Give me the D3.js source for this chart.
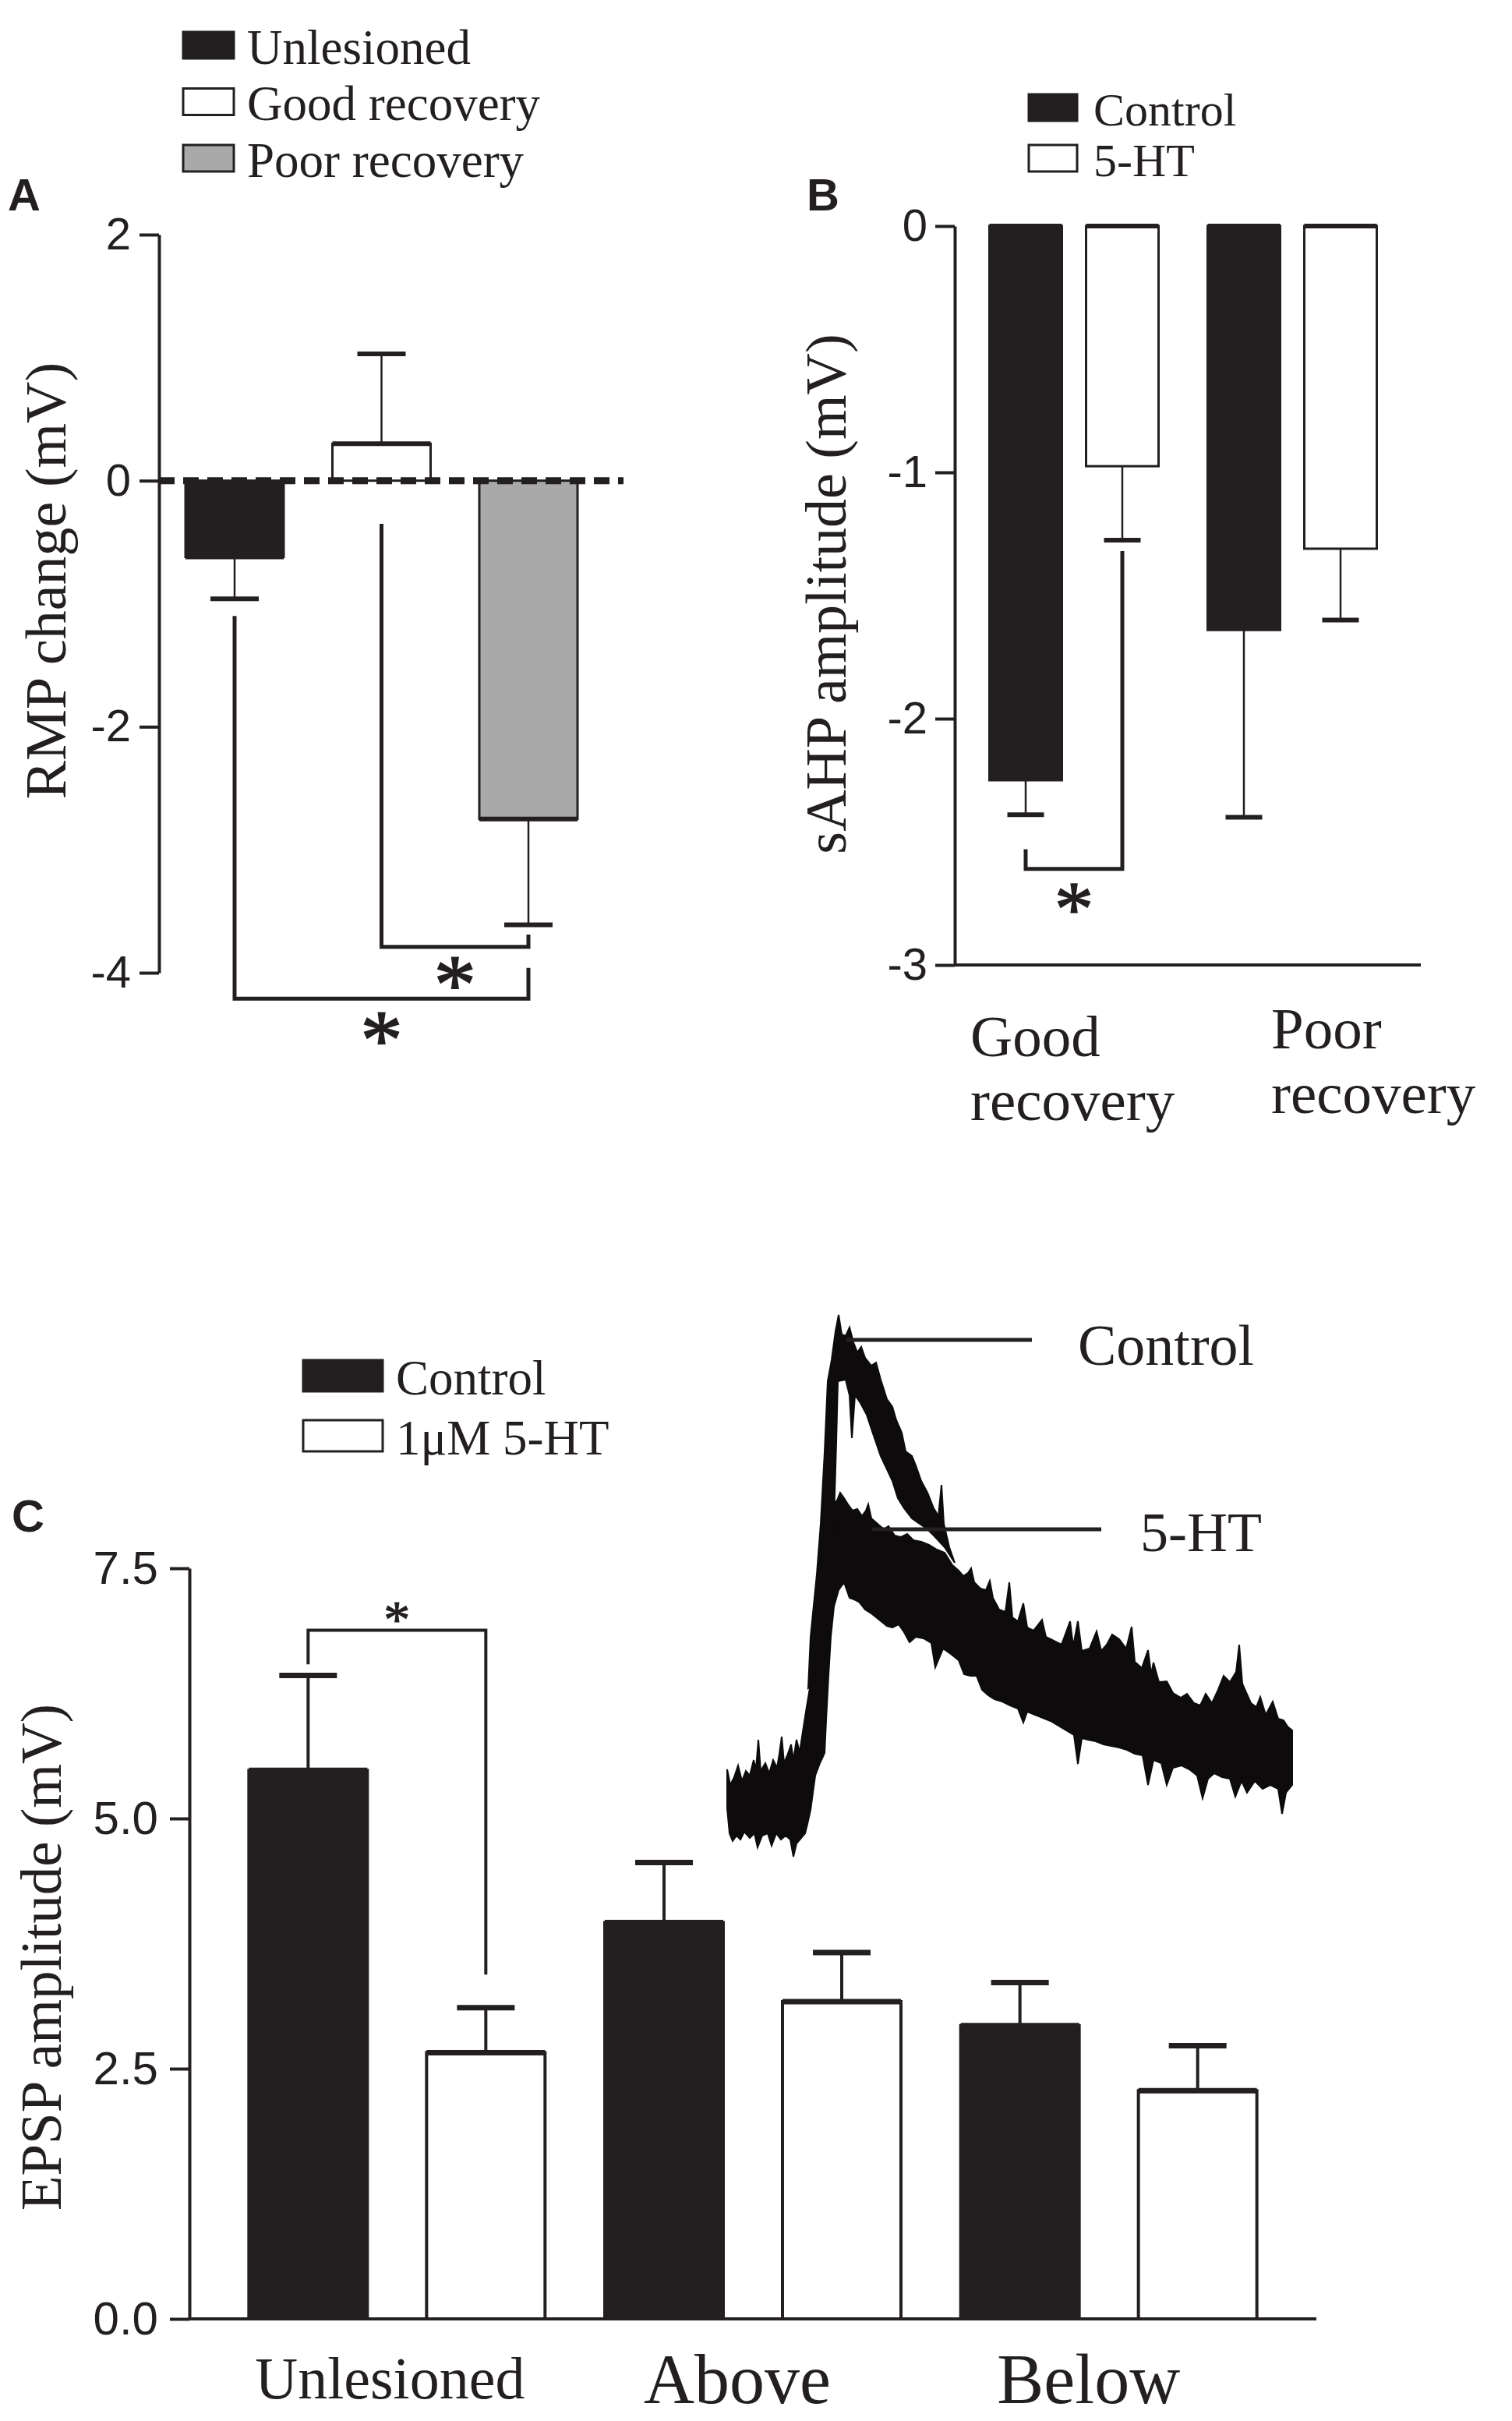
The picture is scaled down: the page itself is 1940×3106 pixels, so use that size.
<!DOCTYPE html>
<html>
<head>
<meta charset="utf-8">
<script src="https://cdn.jsdelivr.net/npm/d3@7/dist/d3.min.js"></script>
<style>
body { margin: 0; background: #fff; }
svg { display: block; background: #fff; }
</style>
</head>
<body>
<svg id="figure"></svg>
<script>
// ---- data ----
var rmpGroups = ["Unlesioned", "Good recovery", "Poor recovery"];
var rmpMean = [-0.62, 0.30, -2.75];
var rmpSem = [0.34, 0.73, 0.86];
var rmpTicks = [2, 0, -2, -4];
var rmpBrackets = [
    { from: "Good recovery", to: "Poor recovery", fromY: -0.35, baseY: -3.79, toY: -3.69, star: -4.01 },
    { from: "Unlesioned", to: "Poor recovery", fromY: -1.10, baseY: -4.21, toY: -3.96, star: -4.46 }
];

var sahpGroups = ["Good recovery", "Poor recovery"];
var sahpSeries = ["Control", "5-HT"];
var sahpControl = [-2.25, -1.64];
var sahpControlSem = [0.14, 0.76];
var sahpSerotonin = [-0.975, -1.31];
var sahpSerotoninSem = [0.30, 0.29];
var sahpTicks = [0, -1, -2, -3];
var sahpBracket = { group: "Good recovery", fromY: -2.53, baseY: -2.61, toY: -1.32, star: -2.73 };

var epspGroups = ["Unlesioned", "Above", "Below"];
var epspSeries = ["Control", "1\u03bcM 5-HT"];
var epspControl = [5.48, 3.96, 2.93];
var epspControlSem = [0.95, 0.60, 0.43];
var epspSerotonin = [2.66, 3.17, 2.28];
var epspSerotoninSem = [0.45, 0.49, 0.45];
var epspTicks = [0, 2.5, 5, 7.5];
var epspBracket = { group: "Unlesioned", fromY: 6.54, baseY: 6.88, toY: 3.44, star: 7.06 };

// inset EPSP recordings: outline of overlaid sweeps, [time ms, mV]
var traceControlOutline = [
    [22.4,1.53],[20.8,1.47],[21.4,2.13],[23.0,2.93],[24.0,3.58],[25.0,4.50],[25.8,5.41],[26.8,5.68],
    [27.8,6.05],[28.6,6.26],[29.4,6.01],[30.4,5.99],[31.4,6.10],[32.4,5.91],[33.4,5.78],[34.4,5.85],
    [35.4,5.71],[37.0,5.61],[38.2,5.65],[39.4,5.43],[41.0,5.18],[42.4,5.08],[43.4,4.91],[44.8,4.75],
    [45.8,4.51],[47.4,4.45],[48.4,4.33],[49.8,4.13],[51.4,3.98],[53.0,3.78],[54.2,3.68],[55.0,4.08],
    [55.6,3.58],[57.0,3.28],[58.4,3.08],
    [55.8,3.28],[53.4,3.41],[51.4,3.51],[49.4,3.58],[47.4,3.65],[45.4,3.78],[43.8,3.91],[42.4,4.13],
    [41.0,4.28],[39.4,4.45],[37.8,4.68],[35.8,4.98],[34.2,5.13],[32.8,5.23],[32.0,4.68],[31.4,5.23],
    [30.4,5.43],[28.4,5.41],[28.0,4.63],[27.4,3.63],[26.6,2.63]
];
var traceSerotoninOutline = [
    [0,0.43],[0.8,0.23],[1.8,0.33],[2.8,0.48],[3.8,0.28],[4.8,0.41],[5.8,0.35],[6.8,0.55],[7.4,0.43],
    [8.0,0.81],[8.6,0.41],[9.8,0.51],[10.8,0.38],[11.8,0.55],[12.8,0.45],[13.4,0.63],[14.0,0.85],
    [14.6,0.51],[15.6,0.63],[16.4,0.75],[17.0,0.55],[17.8,0.81],[18.6,0.65],[19.4,0.91],[20.4,1.23],
    [21.4,1.53],[23.0,1.93],[24.4,3.03],[25.8,3.53],[27.0,3.83],[28.2,3.88],[29.0,3.98],[30.0,3.91],
    [31.0,3.83],[32.2,3.75],[33.4,3.77],[34.6,3.68],[35.6,3.75],[36.2,3.83],[37.0,3.65],[38.6,3.58],
    [40.2,3.51],[41.4,3.55],[43.0,3.43],[44.6,3.41],[46.2,3.45],[47.8,3.37],[49.8,3.35],[51.8,3.31],
    [53.8,3.25],[55.8,3.21],[57.8,3.05],[59.4,2.98],[60.6,2.91],[61.8,2.95],[62.6,3.01],[63.4,2.83],
    [65.0,2.75],[66.4,2.73],[67.4,2.85],[68.2,2.63],[69.8,2.48],[71.4,2.45],[72.4,2.83],[73.2,2.38],
    [74.6,2.33],[76.0,2.56],[77.0,2.25],[78.6,2.21],[80.8,2.35],[81.8,2.13],[83.8,2.08],[85.8,2.03],
    [88.0,2.33],[88.8,2.01],[90.0,2.33],[91.0,1.95],[93.0,1.98],[94.8,2.20],[96.0,1.95],[97.4,2.03],
    [98.8,2.16],[100.6,2.10],[102.4,1.98],[103.8,2.26],[104.6,1.81],[106.4,1.73],[108.0,1.96],
    [108.8,1.65],[109.4,1.80],[110.8,1.55],[112.8,1.56],[114.4,1.41],[116.4,1.35],[118.0,1.40],
    [119.8,1.28],[121.4,1.25],[122.8,1.40],[124.4,1.28],[125.8,1.43],[127.4,1.63],[129.0,1.55],
    [130.6,1.68],[131.4,2.03],[132.2,1.53],[132.8,1.46],[134.4,1.28],[135.8,1.23],[136.8,1.36],
    [138.2,1.13],[140.0,1.30],[141.4,1.08],[142.8,1.06],[143.8,0.98],[145.0,0.93],
    [145.0,0.23],[143.4,0.13],[142.4,-0.14],[141.4,0.18],[139.4,0.23],[137.4,0.18],[135.4,0.28],
    [133.4,0.13],[132.0,0.28],[130.4,0.08],[129.0,0.31],[127.0,0.33],[125.0,0.38],[123.4,0.31],
    [122.0,0.06],[120.6,0.35],[118.6,0.43],[116.6,0.48],[114.4,0.45],[112.8,0.23],[111.4,0.51],
    [109.4,0.55],[108.0,0.23],[106.6,0.61],[104.6,0.63],[102.6,0.68],[100.6,0.71],[98.6,0.73],
    [96.6,0.75],[94.6,0.79],[92.6,0.81],[91.0,0.83],[90.0,0.50],[89.0,0.87],[87.0,0.93],[85.0,0.99],
    [83.0,1.05],[81.0,1.09],[79.0,1.13],[77.0,1.17],[76.0,1.03],[74.6,1.21],[72.6,1.25],[70.6,1.30],
    [68.6,1.33],[67.0,1.38],[65.4,1.45],[64.0,1.63],[62.4,1.63],[60.8,1.65],[59.4,1.83],[57.4,1.91],
    [55.4,1.98],[53.4,1.74],[52.4,2.05],[50.4,2.11],[48.4,2.13],[46.8,2.06],[45.4,2.19],[44.0,2.29],
    [42.4,2.25],[41.0,2.27],[39.0,2.35],[37.0,2.43],[35.4,2.48],[33.8,2.58],[32.6,2.61],[31.4,2.63],
    [30.0,2.83],[28.6,2.73],[27.4,2.52],[26.6,2.13],[26.0,1.63],[25.4,1.06],[25.0,0.64],[23.8,0.51],
    [22.6,0.35],[21.4,-0.09],[20.6,-0.27],[20.0,-0.39],[19.0,-0.45],[17.8,-0.52],[17.0,-0.69],
    [16.2,-0.47],[15.0,-0.42],[13.8,-0.47],[12.6,-0.39],[11.4,-0.55],[10.4,-0.39],[9.0,-0.42],
    [7.8,-0.57],[7.0,-0.39],[5.8,-0.45],[4.4,-0.37],[3.4,-0.47],[2.4,-0.42],[1.4,-0.49],[0.6,-0.39],
    [0,-0.07]
];
var traceLabels = [
    { text: "Control", t0: 30.6, t1: 78.2, v: 5.94, tText: 90, vText: 5.62, size: 74 },
    { text: "5-HT", t0: 37.2, t1: 96.0, v: 3.51, tText: 106, vText: 3.23, size: 72 }
];

// ---- drawing ----
var ink = "#231f20";
var grey = "#a9a9a9";
var serif = "'Liberation Serif', 'Times New Roman', serif";
var sans = "'Liberation Sans', Arial, sans-serif";

var svg = d3.select("#figure").attr("width", 1940).attr("height", 3106);

function yAxis(scale, ticks, fmt, x, pad, size) {
    var axis = d3.axisLeft(scale)
        .tickValues(ticks)
        .tickFormat(fmt)
        .tickSize(25)
        .tickSizeOuter(0)
        .tickPadding(pad);
    var g = svg.append("g")
        .attr("transform", "translate(" + x + ",0)")
        .call(axis);
    g.select(".domain").attr("stroke", ink).attr("stroke-width", 4);
    g.selectAll(".tick line").attr("stroke", ink).attr("stroke-width", 4);
    g.selectAll(".tick text")
        .attr("fill", ink)
        .attr("font-family", sans)
        .attr("font-size", size);
}

function text(str, x, y, size, opts) {
    opts = opts || {};
    return svg.append("text")
        .attr("x", x)
        .attr("y", y)
        .attr("font-family", opts.family || serif)
        .attr("font-size", size)
        .attr("font-weight", opts.weight || "normal")
        .attr("text-anchor", opts.anchor || "start")
        .attr("fill", ink)
        .text(str);
}

function yLabel(str, x, y, size) {
    svg.append("text")
        .attr("transform", "translate(" + x + "," + y + ") rotate(-90)")
        .attr("text-anchor", "middle")
        .attr("font-family", serif)
        .attr("font-size", size)
        .attr("fill", ink)
        .text(str);
}

function legend(items, x, y0, step, w, h, textX, size) {
    items.forEach(function(d, i) {
        var cy = y0 + i * step;
        svg.append("rect")
            .attr("x", x).attr("y", cy - h / 2)
            .attr("width", w).attr("height", h)
            .attr("fill", d.fill)
            .attr("stroke", ink).attr("stroke-width", 3);
        text(d.label, textX, cy + 0.38 * size, size);
    });
}

// one bar with its edge line and its error bar
function bar(cx, width, y, v, sem, fill, style) {
    var y0 = y(0), y1 = y(v);
    svg.append("rect")
        .attr("x", cx - width / 2)
        .attr("y", Math.min(y0, y1))
        .attr("width", width)
        .attr("height", Math.abs(y1 - y0))
        .attr("fill", fill)
        .attr("stroke", ink)
        .attr("stroke-width", style.border);
    var edge = style.edgeAtZero ? y0 : y1;
    svg.append("line")
        .attr("x1", cx - width / 2).attr("x2", cx + width / 2)
        .attr("y1", edge).attr("y2", edge)
        .attr("stroke", ink).attr("stroke-width", style.edge);
    var tip = y(v < 0 ? v - sem : v + sem);
    svg.append("line")
        .attr("x1", cx).attr("x2", cx)
        .attr("y1", y1).attr("y2", tip)
        .attr("stroke", ink).attr("stroke-width", style.whisker);
    svg.append("line")
        .attr("x1", cx - style.cap / 2).attr("x2", cx + style.cap / 2)
        .attr("y1", tip).attr("y2", tip)
        .attr("stroke", ink).attr("stroke-width", style.capWidth);
}

function bracket(x1, x2, y, b, width) {
    svg.append("path")
        .attr("d", "M" + x1 + "," + y(b.fromY) + "V" + y(b.baseY) + "H" + x2 + "V" + y(b.toY))
        .attr("fill", "none")
        .attr("stroke", ink)
        .attr("stroke-width", width);
}

function star(cx, cy, size) {
    text("*", cx, cy + 0.46 * size, size, { anchor: "middle" })
        .attr("stroke", ink)
        .attr("stroke-width", size / 60);
}

// ---------- Panel A ----------
function drawPanelA() {
    var y = d3.scaleLinear().domain([2, -4]).range([301, 1248]);
    var x = d3.scalePoint().domain(rmpGroups).range([301, 678]);
    var fills = [ink, "#fff", grey];

    legend([
        { label: "Unlesioned", fill: ink },
        { label: "Good recovery", fill: "#fff" },
        { label: "Poor recovery", fill: grey }
    ], 235, 58, 72.5, 65, 34, 317, 63);
    text("A", 10, 270, 58, { family: sans, weight: "bold" });

    rmpGroups.forEach(function(g, i) {
        bar(x(g), 126, y, rmpMean[i], rmpSem[i], fills[i],
            { border: 3, edge: 6, edgeAtZero: false, whisker: 2.5, cap: 62, capWidth: 6 });
    });

    yAxis(y, rmpTicks, function(d) { return String(d); }, 204, 11, 58);

    svg.append("line")
        .attr("x1", 204).attr("x2", 800)
        .attr("y1", y(0)).attr("y2", y(0))
        .attr("stroke", ink).attr("stroke-width", 9)
        .attr("stroke-dasharray", "20,11");

    rmpBrackets.forEach(function(b) {
        bracket(x(b.from), x(b.to), y, b, 5);
        star((x(b.from) + x(b.to)) / 2, y(b.star), 108);
    });

    yLabel("RMP change (mV)", 84, 745, 74);
}

// ---------- Panel B ----------
function drawPanelB() {
    var y = d3.scaleLinear().domain([0, -3]).range([290, 1238]);
    var x = d3.scaleBand().domain(sahpGroups).range([1238, 1798]);
    var xs = d3.scalePoint().domain(sahpSeries).range([-62, 62]);
    var labelDx = [-133, -27];
    var labelBase = [[1355, 1437], [1345, 1428]];

    legend([
        { label: "Control", fill: ink },
        { label: "5-HT", fill: "#fff" }
    ], 1320, 138, 65, 62, 34, 1403, 60);
    text("B", 1035, 270, 58, { family: sans, weight: "bold" });

    var style = { border: 3, edge: 6, edgeAtZero: true, whisker: 2.5, cap: 47, capWidth: 6 };
    sahpGroups.forEach(function(g, i) {
        var c = x(g) + x.bandwidth() / 2;
        bar(c + xs("Control"), 93, y, sahpControl[i], sahpControlSem[i], ink, style);
        bar(c + xs("5-HT"), 93, y, sahpSerotonin[i], sahpSerotoninSem[i], "#fff", style);
        var words = g.split(" ");
        text(words[0], c + labelDx[i], labelBase[i][0], 75);
        text(words[1], c + labelDx[i], labelBase[i][1], 75);
    });

    yAxis(y, sahpTicks, function(d) { return String(d); }, 1225, 10, 58);
    svg.append("line")
        .attr("x1", 1225).attr("x2", 1823)
        .attr("y1", y(-3)).attr("y2", y(-3))
        .attr("stroke", ink).attr("stroke-width", 4);

    var c0 = x(sahpBracket.group) + x.bandwidth() / 2;
    var bx1 = c0 + xs("Control"), bx2 = c0 + xs("5-HT");
    bracket(bx1, bx2, y, sahpBracket, 5);
    star((bx1 + bx2) / 2, y(sahpBracket.star), 100);

    yLabel("sAHP amplitude (mV)", 1085, 762, 74);
}

// ---------- Panel C ----------
function drawPanelC() {
    var y = d3.scaleLinear().domain([0, 7.5]).range([2975, 2012]);
    var x = d3.scaleBand().domain(epspGroups).range([281, 1651]);
    var xs = d3.scalePoint().domain(epspSeries).range([-114, 114]);
    var labelDx = [-9, -20, -26];
    var labelSize = [76, 90, 90];
    var labelBase = [3077, 3083, 3083];

    legend([
        { label: epspSeries[0], fill: ink },
        { label: epspSeries[1], fill: "#fff" }
    ], 389, 1765, 77, 102, 40, 508, 63);
    text("C", 15, 1965, 58, { family: sans, weight: "bold" });

    var style = { border: 4, edge: 7, edgeAtZero: false, whisker: 4, cap: 74, capWidth: 7 };
    epspGroups.forEach(function(g, i) {
        var c = x(g) + x.bandwidth() / 2;
        bar(c + xs(epspSeries[0]), 152, y, epspControl[i], epspControlSem[i], ink, style);
        bar(c + xs(epspSeries[1]), 152, y, epspSerotonin[i], epspSerotoninSem[i], "#fff", style);
        text(g, c + labelDx[i], labelBase[i], labelSize[i], { anchor: "middle" });
    });

    yAxis(y, epspTicks, d3.format(".1f"), 243, 15, 60);
    svg.append("line")
        .attr("x1", 243).attr("x2", 1689)
        .attr("y1", y(0)).attr("y2", y(0))
        .attr("stroke", ink).attr("stroke-width", 4);

    var c0 = x(epspBracket.group) + x.bandwidth() / 2;
    var bx1 = c0 + xs(epspSeries[0]), bx2 = c0 + xs(epspSeries[1]);
    bracket(bx1, bx2, y, epspBracket, 4);
    star((bx1 + bx2) / 2, y(epspBracket.star), 68);

    yLabel("EPSP amplitude (mV)", 78, 2511, 73);
}

// ---------- inset recordings ----------
function drawTraces() {
    var tx = d3.scaleLinear().domain([0, 145]).range([933, 1658]);
    var ty = d3.scaleLinear().domain([0, 1]).range([2313, 2213]);
    var line = d3.line()
        .x(function(d) { return tx(d[0]); })
        .y(function(d) { return ty(d[1]); });

    [traceSerotoninOutline, traceControlOutline].forEach(function(outline) {
        svg.append("path")
            .attr("d", line(outline) + "Z")
            .attr("fill", "#0d0b0c")
            .attr("stroke", "#0d0b0c")
            .attr("stroke-width", 2)
            .attr("stroke-linejoin", "miter");
    });

    traceLabels.forEach(function(d) {
        svg.append("line")
            .attr("x1", tx(d.t0)).attr("x2", tx(d.t1))
            .attr("y1", ty(d.v)).attr("y2", ty(d.v))
            .attr("stroke", ink).attr("stroke-width", 5);
        text(d.text, tx(d.tText), ty(d.vText), d.size);
    });
}

drawPanelA();
drawPanelB();
drawPanelC();
drawTraces();
</script>
</body>
</html>
